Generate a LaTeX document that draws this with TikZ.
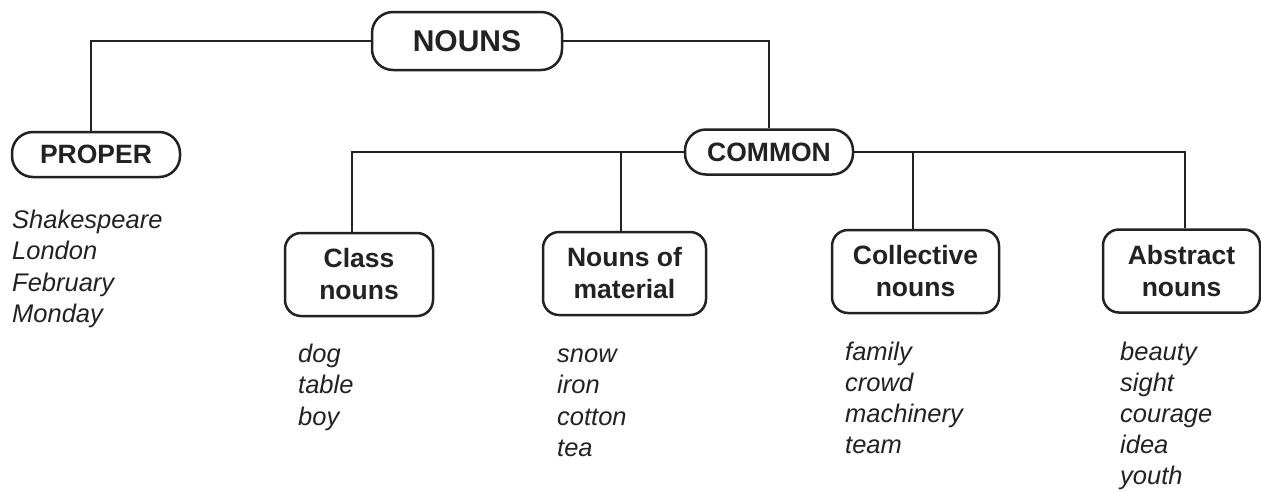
\documentclass[tikz,border=0pt]{standalone}
\usepackage{fontspec}
\setmainfont{Liberation Sans}
\definecolor{ink}{HTML}{222222}
\begin{document}
\begin{tikzpicture}[x=1pt,y=-1pt,
  box/.style={draw=ink, text=ink, line width=2.5pt, inner sep=0pt, align=center,
    font=\bfseries\fontsize{26.5}{32}\selectfont},
  pill/.style={box, rounded corners=21pt},
  tallbox/.style={box, rounded corners=16pt, minimum height=83pt},
  conn/.style={draw=ink, line width=2pt},
  item/.style={anchor=base west, inner sep=0pt, text=ink,
    font=\itshape\fontsize{25.5}{32}\selectfont}]
\fill[white] (0,0) rectangle (1261,491);
\useasboundingbox (0,0) rectangle (1261,491);

\node[box, rounded corners=21pt, minimum width=190pt, minimum height=58pt,
  font=\bfseries\fontsize{30}{36}\selectfont] (nouns) at (467,41) {NOUNS};
\node[pill, minimum width=168pt, minimum height=45pt] (proper) at (96,154.5) {PROPER};
\node[pill, minimum width=168pt, minimum height=45pt] (common) at (769,152) {COMMON};

\node[tallbox, minimum width=148pt] (class) at (359,274.5) {Class\\nouns};
\node[tallbox, minimum width=163pt] (material) at (624.5,273.5) {Nouns of\\material};
\node[tallbox, minimum width=167pt] (collective) at (915.5,271.5) {Collective\\nouns};
\node[tallbox, minimum width=157pt] (abstract) at (1181.5,271) {Abstract\\nouns};

\draw[conn] (nouns.west) -| ([xshift=-5pt]proper.north);
\draw[conn] (nouns.east) -| (common.north);
\draw[conn] (common.west) -| ([xshift=-7pt]class.north);
\draw[conn] (common.west) -| ([xshift=-3.5pt]material.north);
\draw[conn] (common.east) -| ([xshift=-2.5pt]collective.north);
\draw[conn] (common.east) -| ([xshift=3.5pt]abstract.north);

\foreach \w [count=\i] in {Shakespeare,London,February,Monday}
  \node[item] (p\i) at (12,{228+31.5*(\i-1)}) {\w};
\foreach \w [count=\i] in {dog,table,boy}
  \node[item] (c\i) at (298,{362+31.5*(\i-1)}) {\w};
\foreach \w [count=\i] in {snow,iron,cotton,tea}
  \node[item] (m\i) at (557,{362+31.5*(\i-1)}) {\w};
\foreach \w [count=\i] in {family,crowd,machinery,team}
  \node[item] (f\i) at (845,{360+31*(\i-1)}) {\w};
\foreach \w [count=\i] in {beauty,sight,courage,idea,youth}
  \node[item] (a\i) at (1120,{360+31*(\i-1)}) {\w};
\end{tikzpicture}
\end{document}
